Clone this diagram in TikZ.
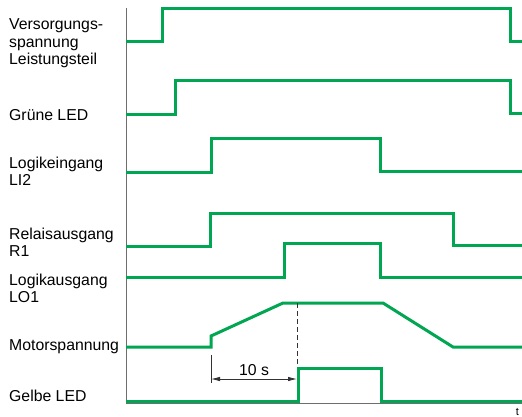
\documentclass[tikz,border=0pt]{standalone}
\usepackage{fontspec}
\setmainfont{Liberation Sans}
\usetikzlibrary{arrows.meta}
\definecolor{sig}{RGB}{0,166,81}
\definecolor{axisgray}{RGB}{110,110,110}
\definecolor{dimgray}{RGB}{50,50,50}
\begin{document}
\begin{tikzpicture}[x=1pt,y=-1pt,
  wave/.style={draw=sig, line width=3pt},
  axisline/.style={draw=axisgray, line width=1pt},
  dimline/.style={draw=dimgray, line width=0.8pt},
  lbl/.style={anchor=base west, inner sep=0pt, align=left,
    font=\fontsize{15.8}{17.5}\selectfont},
]
\useasboundingbox (0,0) rectangle (522,416);
\fill[white] (0,0) rectangle (522,416);

% signal names (anchored at the baseline of the last line)
\node[lbl] (vers)  at (9,64.5)  {Versorgungs-\\spannung\\Leistungsteil};
\node[lbl] (gruen) at (9,120.7) {Grüne LED};
\node[lbl] (li2)   at (9,185.7) {Logikeingang\\LI2};
\node[lbl] (r1)    at (9,256.7) {Relaisausgang\\R1};
\node[lbl] (lo1)   at (9,302.7) {Logikausgang\\LO1};
\node[lbl] (motor) at (9,350.7) {Motorspannung};
\node[lbl] (gelb)  at (9,401)   {Gelbe LED};

% axes
\draw[axisline] (126,8) -- (126,403.5) -- (522,403.5);
\node[lbl, anchor=base, font=\fontsize{11}{13}\selectfont] (t) at (517.5,415) {t};

% waveforms
\draw[wave] (126,41.7) -- (162,41.7) -- (162,8.5) -- (510,8.5) -- (510,41.3) -- (522,41.3);
\draw[wave] (126,114) -- (175,114) -- (175,80) -- (510,80) -- (510,113) -- (522,113);
\draw[wave] (126,172) -- (211,172) -- (211,138) -- (380.5,138) -- (380.5,171) -- (522,171);
\draw[wave] (126,246) -- (210.5,246) -- (210.5,213) -- (453,213) -- (453,245.7) -- (522,245.7);
\draw[wave] (126,277) -- (284,277) -- (284,243) -- (380,243) -- (380,277) -- (522,277);
\draw[wave] (126,347) -- (211,347) -- (211,336) -- (283,303) -- (383,303) -- (453,347) -- (522,347);
\draw[wave] (126,401) -- (298.3,401) -- (298.3,368) -- (381,368) -- (381,401) -- (522,401);

% 10 s delay
\draw[dimline, dash pattern=on 5pt off 3pt] (297,303) -- (297,365);
\draw[dimline] (211,355) -- (211,383);
\coordinate (dA) at (211,379);
\coordinate (dB) at (297,379);
\draw[dimline, {Latex[length=9pt,width=4.5pt]}-{Latex[length=9pt,width=4.5pt]}] (dA) -- (dB);
\node[lbl, anchor=base] (delay) at (254,375.7) {10 s};
\end{tikzpicture}
\end{document}
